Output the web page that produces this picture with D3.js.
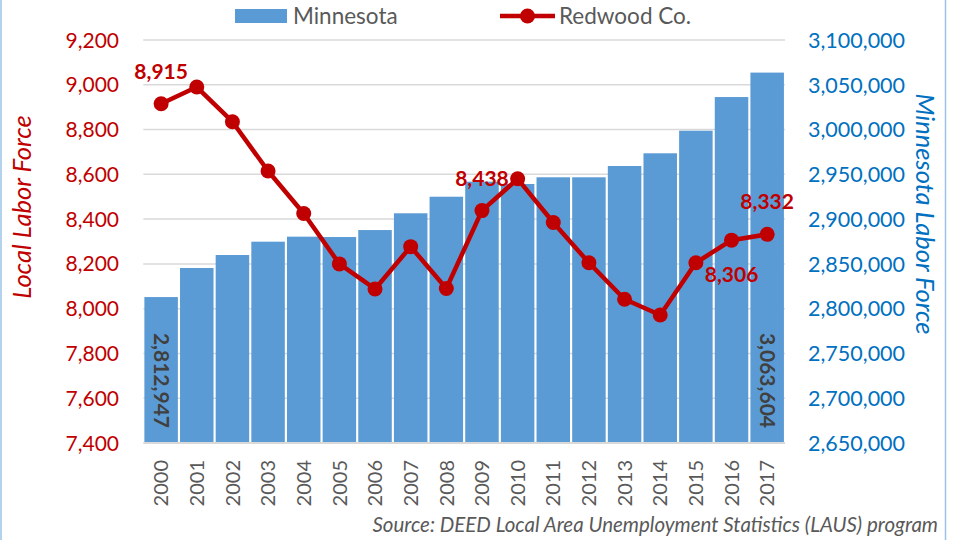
<!DOCTYPE html>
<meta charset="utf-8">
<script src="https://d3js.org/d3.v7.min.js"></script>
<style>
  body { margin: 0; background: #fff; }
  text { font-family: Lato, "Open Sans", sans-serif; }
</style>
<div id="chart"></div>
<script>

// data
var years = ["2000","2001","2002","2003","2004","2005","2006","2007","2008",
             "2009","2010","2011","2012","2013","2014","2015","2016","2017"];
var minnesota = [2812947, 2845400, 2859900, 2874800, 2880400, 2880000, 2887800, 2906500, 2925000,
                 2941800, 2939200, 2946700, 2946700, 2959300, 2973500, 2998700, 3036300, 3063604];
var redwood = [8915, 8990, 8835, 8615, 8425, 8200, 8088, 8277, 8090,
               8438, 8580, 8385, 8205, 8042, 7972, 8205, 8306, 8332];
var leftTicks = [7400, 7600, 7800, 8000, 8200, 8400, 8600, 8800, 9000, 9200];
var rightTicks = [2650000, 2700000, 2750000, 2800000, 2850000, 2900000, 2950000, 3000000, 3050000, 3100000];
// which points get a value label, and where
var redLabels = [{i: 0, pos: "above"}, {i: 9, pos: "above"}, {i: 16, pos: "below"}, {i: 17, pos: "above"}];
var barLabels = [0, 17];

var W = 953, H = 540;
var plot = {left: 143.3, right: 785, top: 40, bottom: 443};

var svg = d3.select("#chart").append("svg")
  .attr("width", W)
  .attr("height", H);

// chart border edges
svg.append("line").attr("x1", 1).attr("x2", 1).attr("y1", 0).attr("y2", H)
  .style("stroke", "#9DC3E6").style("stroke-width", 1.5);
svg.append("line").attr("x1", 945.5).attr("x2", 945.5).attr("y1", 0).attr("y2", H)
  .style("stroke", "#9DC3E6").style("stroke-width", 1.5);

var x = d3.scaleBand()
  .domain(years)
  .range([plot.left, plot.right])
  .paddingInner(0.06)
  .paddingOuter(0.03);

var yL = d3.scaleLinear().domain([7400, 9200]).range([plot.bottom, plot.top]);
var yR = d3.scaleLinear().domain([2650000, 3100000]).range([plot.bottom, plot.top]);

var fmt = d3.format(",");

// gridlines
svg.append("g").selectAll("line")
  .data(leftTicks.slice(1))
  .enter().append("line")
    .attr("x1", plot.left).attr("x2", plot.right)
    .attr("y1", function(d) { return yL(d); })
    .attr("y2", function(d) { return yL(d); })
    .style("stroke", "#D9D9D9")
    .style("stroke-width", 1.5);

// bars
svg.append("g").selectAll("rect")
  .data(minnesota)
  .enter().append("rect")
    .attr("x", function(d, i) { return x(years[i]); })
    .attr("y", function(d) { return yR(d); })
    .attr("width", x.bandwidth())
    .attr("height", function(d) { return plot.bottom - yR(d); })
    .style("fill", "#5B9BD5");

// bottom axis line
svg.append("line")
  .attr("x1", plot.left).attr("x2", plot.right)
  .attr("y1", plot.bottom).attr("y2", plot.bottom)
  .style("stroke", "#D9D9D9").style("stroke-width", 2);

// bar value labels (rotated, inside base)
svg.append("g").selectAll("text")
  .data(barLabels)
  .enter().append("text")
    .attr("transform", function(i) {
      return "translate(" + (x(years[i]) + x.bandwidth() / 2) + "," + (plot.bottom - 15) + ") rotate(90)";
    })
    .attr("dy", "0.35em")
    .style("text-anchor", "end")
    .style("font-size", "21px")
    .style("font-weight", "bold")
    .style("fill", "#404040")
    .text(function(i) { return fmt(minnesota[i]); });

// red line
var line = d3.line()
  .x(function(d, i) { return x(years[i]) + x.bandwidth() / 2; })
  .y(function(d) { return yL(d); });

svg.append("path")
  .datum(redwood)
  .attr("d", line)
  .style("fill", "none")
  .style("stroke", "#C00000")
  .style("stroke-width", 4.5)
  .style("stroke-linejoin", "round");

svg.append("g").selectAll("circle")
  .data(redwood)
  .enter().append("circle")
    .attr("cx", function(d, i) { return x(years[i]) + x.bandwidth() / 2; })
    .attr("cy", function(d) { return yL(d); })
    .attr("r", 7.5)
    .style("fill", "#C00000");

// red value labels
svg.append("g").selectAll("text")
  .data(redLabels)
  .enter().append("text")
    .attr("x", function(d) { return x(years[d.i]) + x.bandwidth() / 2; })
    .attr("y", function(d) { return yL(redwood[d.i]) + (d.pos == "above" ? -25 : 42); })
    .style("text-anchor", "middle")
    .style("font-size", "21px")
    .style("font-weight", "bold")
    .style("fill", "#C00000")
    .text(function(d) { return fmt(redwood[d.i]); });

// left axis labels
svg.append("g").selectAll("text")
  .data(leftTicks)
  .enter().append("text")
    .attr("x", 119)
    .attr("y", function(d) { return yL(d); })
    .attr("dy", "0.36em")
    .style("text-anchor", "end")
    .style("font-size", "21px")
    .style("fill", "#C00000")
    .text(function(d) { return fmt(d); });

// right axis labels
svg.append("g").selectAll("text")
  .data(rightTicks)
  .enter().append("text")
    .attr("x", 808)
    .attr("y", function(d) { return yR(d); })
    .attr("dy", "0.36em")
    .style("text-anchor", "start")
    .style("font-size", "21.5px")
    .style("fill", "#0070C0")
    .text(function(d) { return fmt(d); });

// year labels
svg.append("g").selectAll("text")
  .data(years)
  .enter().append("text")
    .attr("transform", function(d) {
      return "translate(" + (x(d) + x.bandwidth() / 2) + "," + 460 + ") rotate(-90)";
    })
    .attr("dy", "0.36em")
    .style("text-anchor", "end")
    .style("font-size", "20px")
    .style("fill", "#595959")
    .text(function(d) { return d; });

// axis titles
svg.append("text")
  .attr("transform", "translate(22," + 207 + ") rotate(-90)")
  .attr("dy", "0.36em")
  .style("text-anchor", "middle")
  .style("font-size", "25.5px")
  .style("font-style", "italic")
  .style("fill", "#C00000")
  .text("Local Labor Force");

svg.append("text")
  .attr("transform", "translate(925," + 214 + ") rotate(90)")
  .attr("dy", "0.36em")
  .style("text-anchor", "middle")
  .style("font-size", "25.5px")
  .style("font-style", "italic")
  .style("fill", "#0070C0")
  .text("Minnesota Labor Force");

// legend
svg.append("rect")
  .attr("x", 235).attr("y", 9).attr("width", 52).attr("height", 14)
  .style("fill", "#5B9BD5");
svg.append("text")
  .attr("x", 293).attr("y", 16).attr("dy", "0.36em")
  .style("font-size", "22.5px").style("fill", "#595959")
  .text("Minnesota");

svg.append("line")
  .attr("x1", 500).attr("x2", 555).attr("y1", 16).attr("y2", 16)
  .style("stroke", "#C00000").style("stroke-width", 4.5);
svg.append("circle")
  .attr("cx", 527.5).attr("cy", 16).attr("r", 7.5)
  .style("fill", "#C00000");
svg.append("text")
  .attr("x", 559).attr("y", 16).attr("dy", "0.36em")
  .style("font-size", "22.5px").style("fill", "#595959")
  .text("Redwood Co.");

// source note
svg.append("text")
  .attr("x", 938).attr("y", 532)
  .style("text-anchor", "end")
  .style("font-size", "20.5px")
  .style("font-style", "italic")
  .style("fill", "#595959")
  .text("Source: DEED Local Area Unemployment Statistics (LAUS) program");

</script>
